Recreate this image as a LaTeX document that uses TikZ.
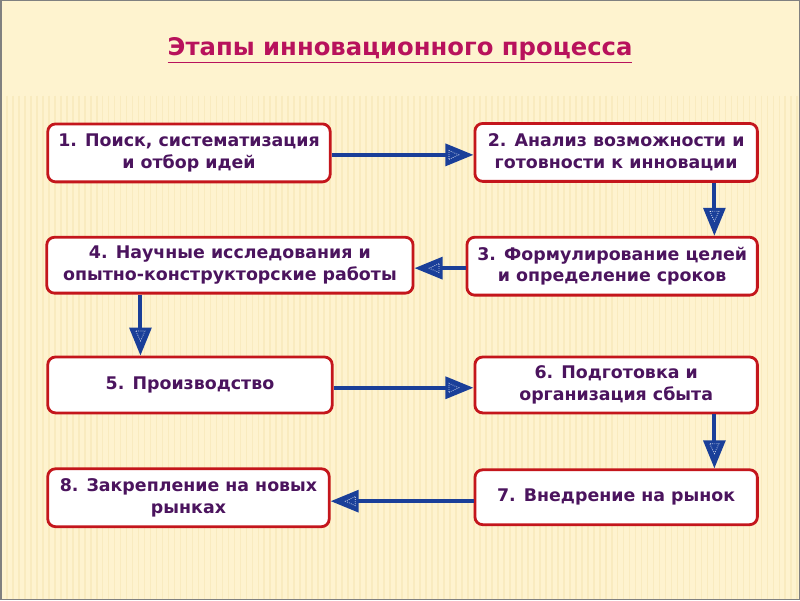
\documentclass[tikz,border=0pt]{standalone}
\usepackage{fontspec}
\setmainfont{DejaVu Sans}
\usetikzlibrary{arrows.meta,decorations.markings}
\definecolor{paper}{HTML}{FEF3CF}
\definecolor{stripe}{HTML}{F0DA9C}
\definecolor{frame}{HTML}{C4161C}
\definecolor{ink}{HTML}{4B145E}
\definecolor{headline}{HTML}{B8125C}
\definecolor{flowblue}{HTML}{1A3F99}
\begin{document}
\begin{tikzpicture}[
    x=0.025cm, y=-0.025cm,
    stage/.style={draw=frame, line width=2pt, fill=white, rounded corners=5.5pt,
      inner sep=0pt, align=center, text=ink, font=\bfseries\fontsize{12.4}{15.6}\selectfont},
    flow/.style={draw=flowblue, line width=2.8pt, -{Triangle[length=20pt,width=15.5pt]},
      postaction={decorate, decoration={markings, mark=at position 1 with
        {\draw[white, densely dotted, line width=0.5pt] (-17.5pt,-3.2pt) -- (-10.5pt,0pt) -- (-17.5pt,3.2pt) -- cycle;}}}}
    ]
  % background
  \fill[paper] (0,0) rectangle (800,600);
  \foreach \i in {0,6,...,798}
    \draw[stripe, line width=1.2pt, opacity=0.3] (\i,95) -- (\i,600);
  \draw[gray, line width=1pt] (0,0) rectangle (800,600);

  \node (title) at (400,50) [text=headline, font=\bfseries\fontsize{17.3}{20}\selectfont]
    {\underline{Этапы инновационного процесса}};

	\node (b1) at (188.5,152.5) [stage, minimum width=283*0.025cm, minimum height=58*0.025cm]
		{1. Поиск, систематизация\\и отбор идей};
	\node (b2) at (616.5,152) [stage, minimum width=283*0.025cm, minimum height=58*0.025cm]
		{2. Анализ возможности и\\готовности к инновации};
	\node (b3) at (612.5,266) [stage, minimum width=291*0.025cm, minimum height=58*0.025cm]
		{3. Формулирование целей\\и определение сроков};
	\node (b4) at (229.5,265) [stage, minimum width=367*0.025cm, minimum height=56*0.025cm]
		{4. Научные исследования и\\опытно-конструкторские работы};
	\node (b5) at (189.5,385) [stage, minimum width=285*0.025cm, minimum height=56*0.025cm]
		{5. Производство};
	\node (b6) at (616.5,385) [stage, minimum width=283*0.025cm, minimum height=56*0.025cm]
		{6. Подготовка и\\организация сбыта};
	\node (b7) at (616.5,497.5) [stage, minimum width=283*0.025cm, minimum height=55*0.025cm]
		{7. Внедрение на рынок};
	\node (b8) at (188,498) [stage, minimum width=282*0.025cm, minimum height=58*0.025cm]
		{8. Закрепление на новых\\рынках};

  \draw[flow] ([yshift=-1.4pt]b1.east) -- ([yshift=-1.4pt]b1.east -| b2.west);
  \draw[flow] ([xshift=2.46cm]b2.south) -- ([xshift=2.46cm]b2.south |- b3.north);
  \draw[flow] ([yshift=-1.4pt]b3.west) -- ([yshift=-1.4pt]b3.west -| b4.east);
  \draw[flow] ([xshift=-2.24cm]b4.south) -- ([xshift=-2.24cm]b4.south |- b5.north);
  \draw[flow] ([yshift=-2pt]b5.east) -- ([yshift=-2pt]b5.east -| b6.west);
  \draw[flow] ([xshift=2.46cm]b6.south) -- ([xshift=2.46cm]b6.south |- b7.north);
  \draw[flow] ([yshift=-2.8pt]b7.west) -- ([yshift=-2.8pt]b7.west -| b8.east);
\end{tikzpicture}
\end{document}
